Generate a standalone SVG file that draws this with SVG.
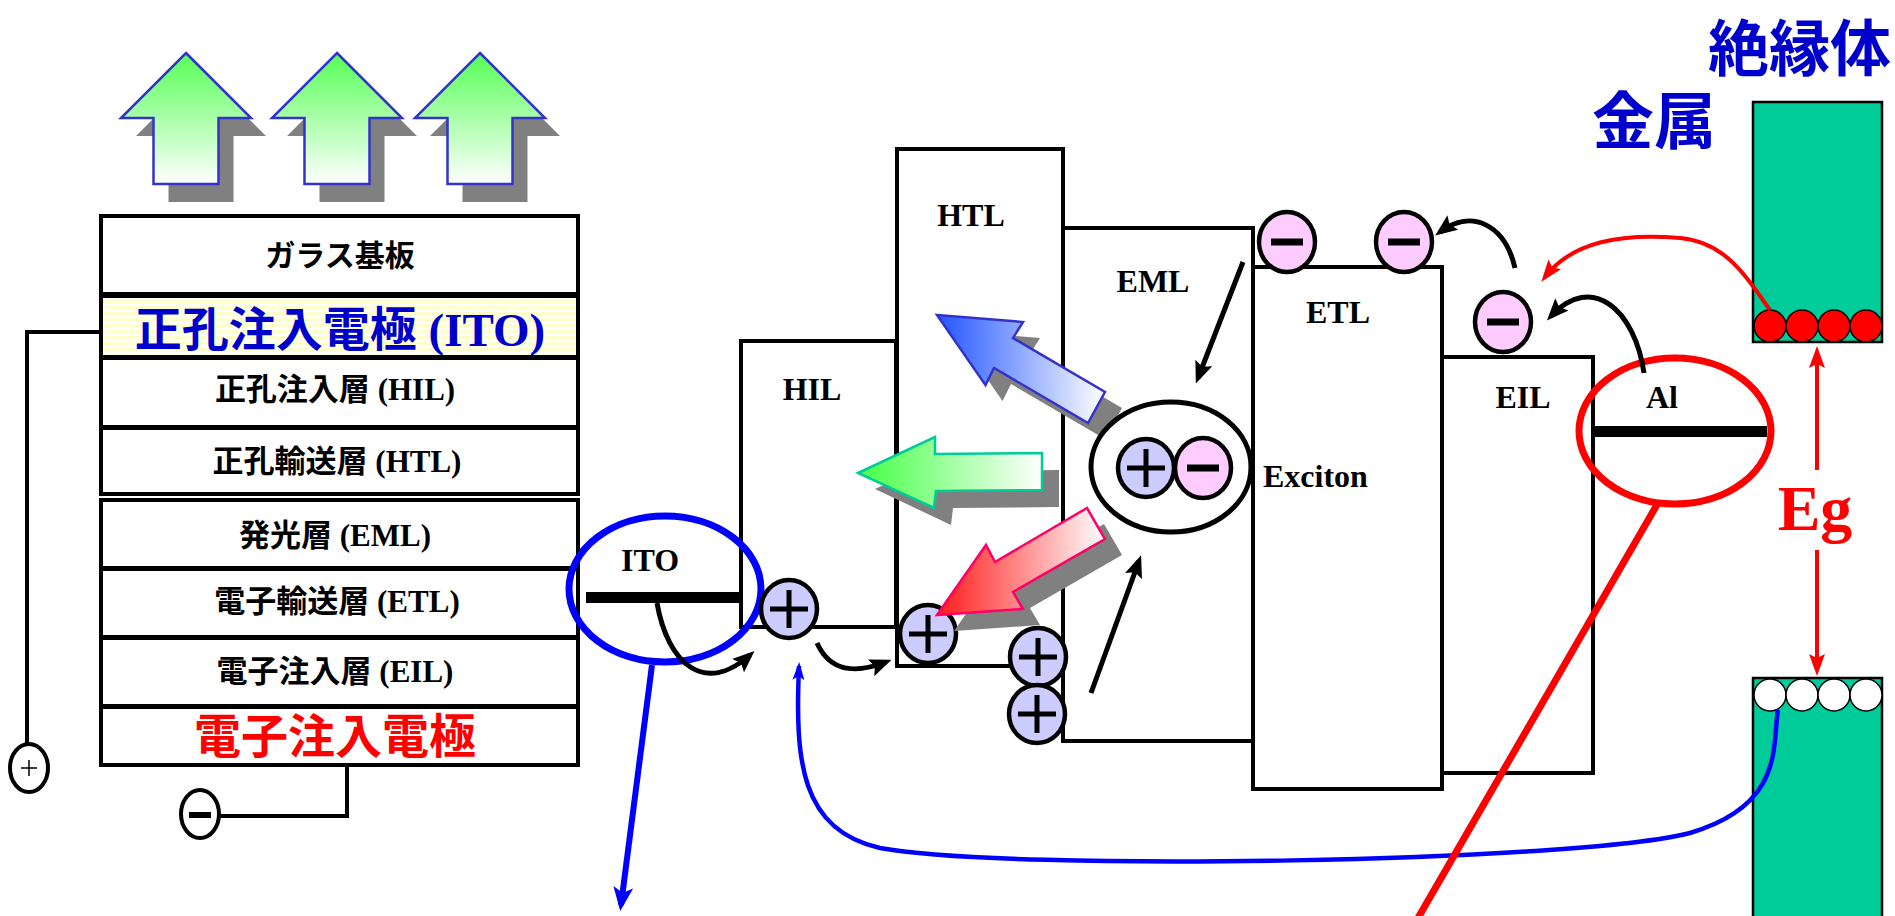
<svg xmlns="http://www.w3.org/2000/svg" width="1895" height="916" viewBox="0 0 1895 916">
<defs>
  <linearGradient id="gUp" x1="0" y1="0" x2="0" y2="1">
    <stop offset="0" stop-color="#55ff55"/>
    <stop offset="1" stop-color="#ffffff"/>
  </linearGradient>
  <linearGradient id="gGreen" x1="0" y1="0" x2="1" y2="0">
    <stop offset="0" stop-color="#44ff44"/>
    <stop offset="1" stop-color="#ffffff"/>
  </linearGradient>
  <linearGradient id="gBlue" x1="0" y1="0" x2="1" y2="0">
    <stop offset="0" stop-color="#2255ff"/>
    <stop offset="1" stop-color="#ffffff"/>
  </linearGradient>
  <linearGradient id="gRed" x1="0" y1="0" x2="1" y2="0">
    <stop offset="0" stop-color="#ff1a1a"/>
    <stop offset="1" stop-color="#ffffff"/>
  </linearGradient>
  <pattern id="stripes" width="8" height="6" patternUnits="userSpaceOnUse">
    <rect width="8" height="6" fill="#ffffff"/>
    <rect width="8" height="3" fill="#ffffcc"/>
  </pattern>
  <marker id="ahBlack" markerWidth="22" markerHeight="18" refX="16" refY="9" orient="auto" markerUnits="userSpaceOnUse">
    <path d="M0,0 L22,9 L0,18 L4,9 Z" fill="#000"/>
  </marker>
  <marker id="ahRed" markerWidth="22" markerHeight="16" refX="16" refY="8" orient="auto" markerUnits="userSpaceOnUse">
    <path d="M0,0 L22,8 L0,16 L4,8 Z" fill="#ff0000"/>
  </marker>
  <marker id="ahBlue" markerWidth="24" markerHeight="20" refX="18" refY="10" orient="auto" markerUnits="userSpaceOnUse">
    <path d="M0,0 L24,10 L0,20 L6,10 Z" fill="#0000ff"/>
  </marker>
  <marker id="ahBlueThin" markerWidth="18" markerHeight="12" refX="14" refY="6" orient="auto" markerUnits="userSpaceOnUse">
    <path d="M0,0 L18,6 L0,12 L4,6 Z" fill="#0000ff"/>
  </marker>
  <polygon id="upArrow" points="65,0 130,65 97.5,65 97.5,131 32.5,131 32.5,65 0,65"/>
  <g id="hole">
    <ellipse rx="28" ry="29" class="hole"/>
    <path d="M-19,0H19M0,-19V19" class="sign"/>
  </g>
  <g id="elec">
    <ellipse rx="28" ry="30" class="elec"/>
    <path d="M-16,0H16" class="msign"/>
  </g>
</defs>
<style>
  .layer{fill:#ffffff;stroke:#000;stroke-width:4}
  .band{fill:#ffffff;stroke:#000;stroke-width:4}
  .jp{font-family:"Noto Sans CJK JP","Noto Sans CJK SC",sans-serif;font-weight:bold}
  .lat{font-family:"Liberation Serif","Times New Roman",serif;font-weight:bold}
  .row{font-size:31px;fill:#000;text-anchor:middle}
  .lbl{font-family:"Liberation Serif","Times New Roman",serif;font-weight:bold;font-size:32px;fill:#000}
  .hole{fill:#ccccff;stroke:#000;stroke-width:4.5}
  .elec{fill:#ffccff;stroke:#000;stroke-width:4.5}
  .sign{stroke:#000;stroke-width:5;fill:none}
  .msign{stroke:#000;stroke-width:7;fill:none}
  .shadow{fill:#808080}
  .wire{fill:none;stroke:#000;stroke-width:4}
  .blk{fill:none;stroke:#000;stroke-width:5}
  .metal{fill:#00cc99;stroke:#000;stroke-width:2.5}
</style>

<!-- light emission arrows above the glass -->
<g id="emission">
  <use href="#upArrow" x="136" y="71" class="shadow"/>
  <use href="#upArrow" x="287" y="71" class="shadow"/>
  <use href="#upArrow" x="430" y="71" class="shadow"/>
  <use href="#upArrow" x="121" y="53" fill="url(#gUp)" stroke="#3333cc" stroke-width="2.5"/>
  <use href="#upArrow" x="272" y="53" fill="url(#gUp)" stroke="#3333cc" stroke-width="2.5"/>
  <use href="#upArrow" x="415" y="53" fill="url(#gUp)" stroke="#3333cc" stroke-width="2.5"/>
</g>

<!-- device layer stack -->
<g id="stack">
  <rect class="layer" x="101" y="216" width="477" height="78"/>
  <rect x="101" y="296" width="477" height="61" fill="url(#stripes)" stroke="#000" stroke-width="4"/>
  <rect class="layer" x="101" y="358" width="477" height="69"/>
  <rect class="layer" x="101" y="428" width="477" height="66"/>
  <rect class="layer" x="101" y="500" width="477" height="68"/>
  <rect class="layer" x="101" y="569" width="477" height="68"/>
  <rect class="layer" x="101" y="638" width="477" height="68"/>
  <rect class="layer" x="101" y="707" width="477" height="58"/>
  <text class="jp row" x="340" y="266" style="font-size:30px">ガラス基板</text>
  <text class="row" x="340" y="346" style="fill:#0000cc;font-size:47px"><tspan class="jp">正孔注入電極</tspan><tspan class="lat"> (ITO)</tspan></text>
  <text class="row" x="335" y="400"><tspan class="jp">正孔注入層</tspan><tspan class="lat"> (HIL)</tspan></text>
  <text class="row" x="337" y="472"><tspan class="jp">正孔輸送層</tspan><tspan class="lat"> (HTL)</tspan></text>
  <text class="row" x="335" y="546"><tspan class="jp">発光層</tspan><tspan class="lat"> (EML)</tspan></text>
  <text class="row" x="337" y="612"><tspan class="jp">電子輸送層</tspan><tspan class="lat"> (ETL)</tspan></text>
  <text class="row" x="335" y="682"><tspan class="jp">電子注入層</tspan><tspan class="lat"> (EIL)</tspan></text>
  <text class="jp" x="335" y="753" text-anchor="middle" font-size="47" fill="#ff0000">電子注入電極</text>
</g>

<!-- external circuit -->
<g id="anode-terminal">
  <path class="wire" d="M101,332 H27 V744"/>
  <ellipse cx="29" cy="768" rx="19" ry="24" fill="#fff" stroke="#000" stroke-width="4"/>
  <path d="M21,768H37M29,760V776" stroke="#000" stroke-width="1.5"/>
</g>
<g id="cathode-terminal">
  <path class="wire" d="M219,816 H347 V765"/>
  <ellipse cx="200" cy="814" rx="19" ry="24" fill="#fff" stroke="#000" stroke-width="4"/>
  <path d="M189,815H211" stroke="#000" stroke-width="6"/>
</g>

<!-- energy band levels -->
<g id="levels">
  <rect class="band" x="741" y="341" width="155" height="286"/>
  <rect class="band" x="897" y="149" width="166" height="517"/>
  <rect class="band" x="1063" y="228" width="190" height="513"/>
  <rect class="band" x="1253" y="267" width="189" height="522"/>
  <rect class="band" x="1442" y="357" width="151" height="416"/>
  <text class="lbl" x="812" y="400" text-anchor="middle">HIL</text>
  <text class="lbl" x="971" y="226" text-anchor="middle">HTL</text>
  <text class="lbl" x="1153" y="292" text-anchor="middle">EML</text>
  <text class="lbl" x="1338" y="323" text-anchor="middle">ETL</text>
  <text class="lbl" x="1523" y="408" text-anchor="middle">EIL</text>
</g>

<!-- ITO work function -->
<g id="ito">
  <rect x="586" y="592" width="157" height="11" fill="#000"/>
  <text class="lbl" x="650" y="571" text-anchor="middle">ITO</text>
  <ellipse cx="665" cy="589" rx="96" ry="73" fill="none" stroke="#0000ff" stroke-width="7"/>
</g>

<!-- Al work function -->
<g id="al">
  <rect x="1595" y="426" width="172" height="11" fill="#000"/>
  <text class="lbl" x="1662" y="408" text-anchor="middle">Al</text>
  <ellipse cx="1675" cy="431" rx="96" ry="73" fill="none" stroke="#ff0000" stroke-width="7"/>
</g>

<!-- holes -->
<g id="holes">
  <use href="#hole" x="789" y="609"/>
  <use href="#hole" x="928" y="634"/>
  <use href="#hole" x="1038" y="657"/>
  <use href="#hole" x="1037" y="714"/>
</g>

<!-- electrons -->
<g id="electrons">
  <use href="#elec" x="1287" y="242"/>
  <use href="#elec" x="1404" y="242"/>
  <use href="#elec" x="1503" y="322"/>
</g>

<!-- emitted light from the exciton -->
<g id="light-blue">
  <polygon class="shadow" points="954,331 1040,338 1030,354 1122,408 1105,439 1011,384 1002.5,401"/>
  <polygon points="937,315 1023,322 1013,338 1105,392 1088,423 994,368 985.5,385" fill="url(#gBlue)" stroke="#3333cc" stroke-width="2.5"/>
</g>
<g id="light-green">
  <polygon class="shadow" points="875,489 952,453 952,471 1059,470 1059,507 953,508 951,525"/>
  <polygon points="858,473 935,437 935,454 1042,453 1042,490 936,491 934,508" fill="url(#gGreen)" stroke="#00cc99" stroke-width="2.5"/>
</g>
<g id="light-red">
  <polygon class="shadow" points="954,631 1003,561 1012,578 1104,524 1122,555 1030,608 1040,625"/>
  <polygon points="937,615 986,545 995,562 1087,508 1105,539 1013,592 1023,609" fill="url(#gRed)" stroke="#ff0066" stroke-width="2.5"/>
</g>

<!-- exciton -->
<g id="exciton">
  <ellipse cx="1171" cy="467" rx="80" ry="65" fill="#fff" stroke="#000" stroke-width="5"/>
  <use href="#hole" x="1146" y="468"/>
  <use href="#elec" x="1203" y="468"/>
  <text class="lbl" x="1263" y="487">Exciton</text>
</g>

<!-- insulator / metal band picture -->
<g id="metal-insulator">
  <text class="jp" x="1891" y="71" font-size="61" fill="#0000cc" text-anchor="end">絶縁体</text>
  <text class="jp" x="1592" y="144" font-size="62" fill="#0000cc">金属</text>
  <rect class="metal" x="1753" y="102" width="129" height="240"/>
  <rect class="metal" x="1753" y="678" width="129" height="250"/>
  <g fill="#ff0000" stroke="#000" stroke-width="1.5">
    <ellipse cx="1770" cy="326" rx="16" ry="16"/>
    <ellipse cx="1802" cy="326" rx="16" ry="16"/>
    <ellipse cx="1834" cy="326" rx="16" ry="16"/>
    <ellipse cx="1866" cy="326" rx="16" ry="16"/>
  </g>
  <g fill="#ffffff" stroke="#000" stroke-width="1.5">
    <ellipse cx="1770" cy="695" rx="16" ry="16"/>
    <ellipse cx="1802" cy="695" rx="16" ry="16"/>
    <ellipse cx="1834" cy="695" rx="16" ry="16"/>
    <ellipse cx="1866" cy="695" rx="16" ry="16"/>
  </g>
  <text class="lat" x="1815" y="530" font-size="64" fill="#ff0000" text-anchor="middle">Eg</text>
</g>

<!-- connectors -->
<g id="connectors">
  <path class="blk" d="M657,603 C668,665 705,695 750,655" marker-end="url(#ahBlack)"/>
  <path class="blk" d="M817,643 C830,672 855,674 886,662" marker-end="url(#ahBlack)"/>
  <path class="blk" d="M1243,262 L1198,378" marker-end="url(#ahBlack)"/>
  <path class="blk" d="M1091,693 L1139,561" marker-end="url(#ahBlack)"/>
  <path class="blk" d="M1515,268 C1505,225 1472,208 1440,232" marker-end="url(#ahBlack)"/>
  <path class="blk" d="M1644,373 C1635,310 1592,272 1551,316" marker-end="url(#ahBlack)"/>
  <path d="M1770,310 C1745,275 1725,242 1680,238 C1620,233 1572,242 1545,277" fill="none" stroke="#ff0000" stroke-width="4" marker-end="url(#ahRed)"/>
  <path d="M1817,470 V352" fill="none" stroke="#ff0000" stroke-width="4" marker-end="url(#ahRed)"/>
  <path d="M1817,550 V670" fill="none" stroke="#ff0000" stroke-width="4" marker-end="url(#ahRed)"/>
  <path d="M1778,710 C1772,745 1785,805 1690,833 C1580,862 1010,872 880,848 C800,830 795,760 799,666" fill="none" stroke="#0000ff" stroke-width="4.5" marker-end="url(#ahBlueThin)"/>
  <path d="M652,665 L621,905" fill="none" stroke="#0000ff" stroke-width="6" marker-end="url(#ahBlue)"/>
  <path d="M1658,503 L1418,918" fill="none" stroke="#ff0000" stroke-width="7"/>
</g>
</svg>
